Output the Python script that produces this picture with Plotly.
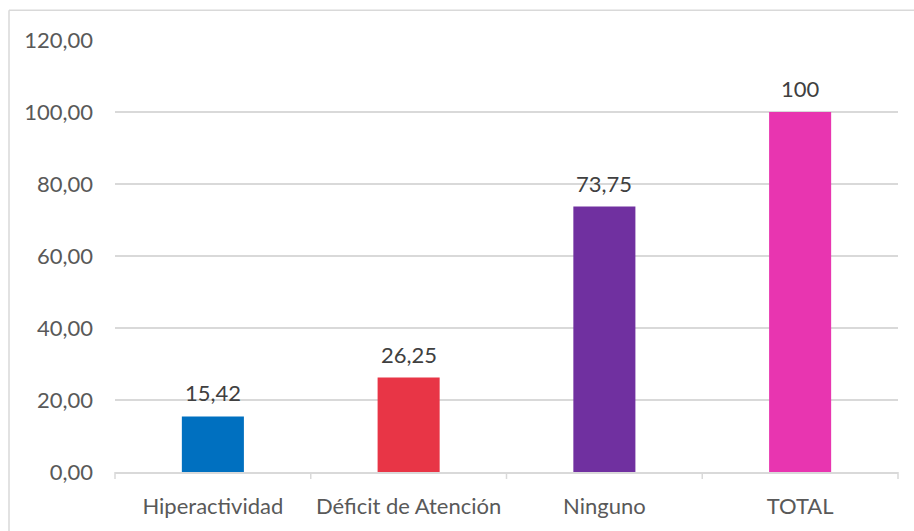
import plotly.graph_objects as go

categories = ["Hiperactividad", "Déficit de Atención", "Ninguno", "TOTAL"]
values = [15.42, 26.25, 73.75, 100]
value_labels = ["15,42", "26,25", "73,75", "100"]
bar_colors = ["#0070C0", "#E83546", "#7030A0", "#E835B0"]
y_ticks = [0, 20, 40, 60, 80, 100, 120]
y_tick_labels = ["0,00", "20,00", "40,00", "60,00", "80,00", "100,00", "120,00"]

W, H = 914, 531
L, R, T, B = 115, 16, 40, 57
FONT = "Lato, Open Sans, sans-serif"
FS = 22

fig = go.Figure(
    go.Bar(
        x=categories,
        y=values,
        marker=dict(color=bar_colors, line=dict(width=0)),
        width=0.317,
        hoverinfo="x+y",
    )
)

# value labels above each bar
for c, v, t in zip(categories, values, value_labels):
    fig.add_annotation(x=c, y=v, text=t, showarrow=False, yanchor="bottom",
                       yshift=8, font=dict(family=FONT, size=FS, color="#404040"))

# chart frame: top and left edges of the outer box
pw, ph = W - L - R, H - T - B
fx0 = (9 - L) / pw
fy1 = 1 + (T - 10) / ph
fy0 = -(B + 5) / ph
fx1 = 1 + (R + 5) / pw
fig.add_shape(type="line", xref="paper", yref="paper", x0=fx0, x1=fx1, y0=fy1, y1=fy1,
              line=dict(color="#D9D9D9", width=1.5))
fig.add_shape(type="line", xref="paper", yref="paper", x0=fx0, x1=fx0, y0=fy0, y1=fy1,
              line=dict(color="#D9D9D9", width=1.5))

fig.update_layout(
    width=W,
    height=H,
    margin=dict(l=L, r=R, t=T, b=B, pad=0),
    paper_bgcolor="white",
    plot_bgcolor="white",
    showlegend=False,
    font=dict(family=FONT, size=FS, color="#595959"),
    xaxis=dict(
        showgrid=False,
        showline=True,
        linecolor="#D9D9D9",
        linewidth=1.5,
        ticks="",
        tickfont=dict(size=FS, color="#595959"),
        ticklabelstandoff=14,
    ),
    yaxis=dict(
        range=[0, 120],
        tickvals=y_ticks,
        ticktext=y_tick_labels,
        showgrid=True,
        gridcolor="#D9D9D9",
        gridwidth=1.5,
        zeroline=False,
        showline=False,
        ticks="",
        ticklabelstandoff=21,
        tickfont=dict(size=FS, color="#595959"),
    ),
)

# category separator ticks below the x axis line
n = len(categories)
for i in range(n + 1):
    xp = i / n
    fig.add_shape(type="line", xref="paper", yref="paper", x0=xp, x1=xp,
                  y0=0, y1=-7 / ph, line=dict(color="#D9D9D9", width=1.5))

fig.write_html("out.html")
